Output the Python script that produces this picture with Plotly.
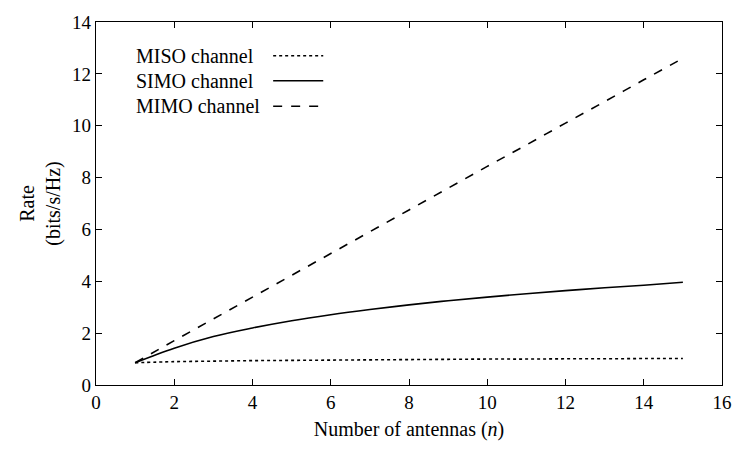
import plotly.graph_objects as go

n_antennas = list(range(1, 16))
miso_rate = [0.86, 0.90, 0.92, 0.94, 0.95, 0.96, 0.97, 0.98, 0.99, 1.00, 1.00, 1.01, 1.01, 1.02, 1.02]
simo_rate = [0.86, 1.42, 1.87, 2.20, 2.48, 2.71, 2.91, 3.09, 3.25, 3.39, 3.52, 3.64, 3.75, 3.85, 3.96]
mimo_rate = [0.86, 1.71, 2.55, 3.39, 4.23, 5.07, 5.91, 6.75, 7.59, 8.43, 9.26, 10.10, 10.93, 11.77, 12.60]

series_names = ["MISO channel", "SIMO channel", "MIMO channel"]
series_values = [miso_rate, simo_rate, mimo_rate]
series_dash = ["dot", "solid", "dash"]

FONT = "Liberation Serif, Times New Roman, DejaVu Serif, serif"

fig = go.Figure()
for name, vals, dash in zip(series_names, series_values, series_dash):
    fig.add_trace(go.Scatter(
        x=n_antennas, y=vals, mode="lines", name=name,
        line=dict(color="black", width=1.6, dash=dash, shape="spline"),
        showlegend=False,
    ))

# custom gnuplot-style legend (text left, sample right)
leg_y = [0.907, 0.838, 0.768]
for name, dash, yy in zip(series_names, series_dash, leg_y):
    fig.add_annotation(xref="paper", yref="paper", x=0.061, y=yy, text=name,
                       showarrow=False, xanchor="left", yanchor="middle",
                       font=dict(family=FONT, size=20, color="black"))
    fig.add_shape(type="line", xref="paper", yref="paper",
                  x0=0.283, x1=0.363, y0=yy, y1=yy,
                  line=dict(color="black", width=1.6, dash=dash))

axis_common = dict(
    showgrid=False, zeroline=False, showline=True, linecolor="black", linewidth=1.2,
    mirror="allticks", ticks="inside", ticklen=6, tickcolor="black", tickwidth=1.2,
    tickfont=dict(family=FONT, size=19, color="black"),
)

fig.update_layout(
    width=744, height=449,
    margin=dict(l=96, r=14, t=12, b=62),
    paper_bgcolor="white", plot_bgcolor="white",
    font=dict(family=FONT, color="black"),
    xaxis=dict(range=[0, 16], dtick=2, tick0=0,
               title=dict(text="Number of antennas (<i>n</i>)", font=dict(family=FONT, size=20), standoff=10),
               **axis_common),
    yaxis=dict(range=[0, 14], dtick=2, tick0=0,
               title=dict(text="Rate<br>(bits/s/Hz)", font=dict(family=FONT, size=20), standoff=6),
               **axis_common),
)

fig.write_html("out.html")
